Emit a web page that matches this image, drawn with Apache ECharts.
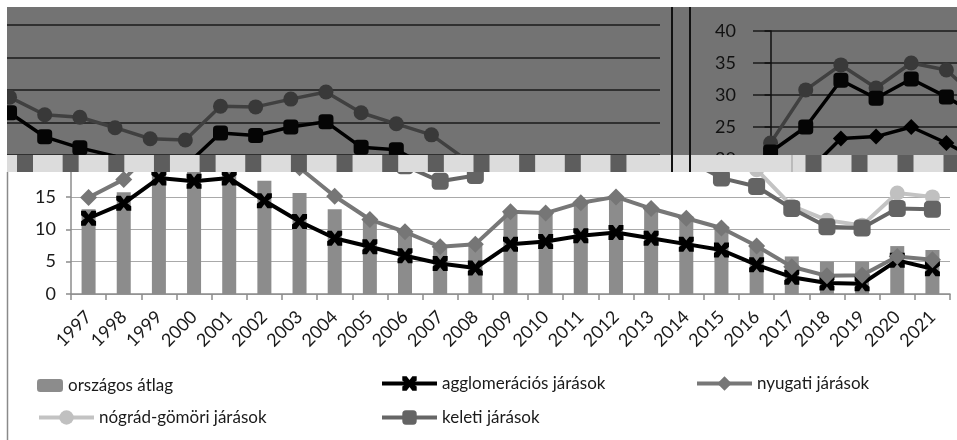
<!DOCTYPE html>
<html><head><meta charset="utf-8">
<script src="https://cdn.jsdelivr.net/npm/echarts@6/dist/echarts.min.js"></script>
<style>html,body{margin:0;padding:0;background:#fff}#c{width:957px;height:440px}</style>
</head><body><div id="c"></div>
<script>
const years = ['1997','1998','1999','2000','2001','2002','2003','2004','2005','2006','2007','2008','2009','2010','2011','2012','2013','2014','2015','2016','2017','2018','2019','2020','2021'];
const orszagosAtlag = [13.1,15.7,19.9,19.5,19.9,17.5,15.6,13.1,11.5,9.5,7.0,7.5,12.8,12.4,14.3,15.0,13.4,12.0,10.5,7.6,5.8,5.0,5.0,7.4,6.8];
const agglomeracios = [11.7,14.0,17.9,17.4,17.9,14.4,11.2,8.6,7.3,5.9,4.7,4.0,7.7,8.1,9.0,9.5,8.6,7.7,6.8,4.5,2.6,1.7,1.6,5.2,3.9];
const nyugati = [14.9,17.7,23.2,23.5,25.0,22.5,19.5,15.1,11.5,9.6,7.3,7.7,12.7,12.5,14.1,15.0,13.2,11.7,10.2,7.4,4.2,2.8,2.9,5.8,5.3];
const nogradGomori = [22.5,30.8,34.7,31.1,35.0,33.9,28.9,26.2,25.8,24.2,22.5,22.3,27.5,27.4,28.6,29.7,26.5,24.8,23.1,19.2,13.6,11.4,10.6,15.6,15.0];
const keleti = [21.1,25.0,32.3,29.5,32.5,29.7,26.5,22.8,21.1,19.8,17.4,18.3,23.4,23.0,24.3,25.1,21.2,20.8,17.9,16.6,13.2,10.4,10.2,13.2,13.1];
const names = ['országos átlag','agglomerációs járások','nyugati járások','nógrád-gömöri járások','keleti járások'];

const FONT = 'Lato';
const XMARK = 'path://M0,0L3,0L5,2.6L7,0L10,0L10,3L7.4,5L10,7L10,10L7,10L5,7.4L3,10L0,10L0,7L2.6,5L0,3Z';
const CAT = 879 / years.length; // px per category in the main plot

const chart = echarts.init(document.getElementById('c'), null, {renderer:'canvas'});

const pairs = arr => arr.map((v,i)=>[i,v]);

function overlaySeries(idx, tag){
  const common = {type:'line', xAxisIndex:idx, yAxisIndex:idx, zlevel:1, clip:true, showSymbol:true, showAllSymbol:true};
  return [
    Object.assign({name:'ov-ny-'+tag, data:pairs(nyugati), z:3,
     symbol:'diamond', symbolSize:16, lineStyle:{color:'#000',width:3.5}, itemStyle:{color:'#000'}}, common),
    Object.assign({name:'ov-ng-'+tag, data:pairs(nogradGomori), z:4,
     symbol:'circle', symbolSize:15, lineStyle:{color:'#404040',width:3.5}, itemStyle:{color:'#393939'}}, common),
    Object.assign({name:'ov-ke-'+tag, data:pairs(keleti), z:5,
     symbol:'roundRect', symbolSize:15, lineStyle:{color:'#000',width:3.5}, itemStyle:{color:'#050505'}}, common)
  ];
}

const graphics = [
  {type:'rect', shape:{x:7,y:7,width:950,height:148}, style:{fill:'#737373'}, zlevel:1, z:0},
  {type:'rect', shape:{x:0,y:0,width:7,height:172}, style:{fill:'#fff'}, zlevel:1, z:100},
  {type:'rect', shape:{x:0,y:0,width:957,height:7}, style:{fill:'#fff'}, zlevel:1, z:100},
  {type:'rect', shape:{x:7,y:155,width:950,height:17}, style:{fill:'#dcdcdc'}, zlevel:1, z:100},
  {type:'line', shape:{x1:672,y1:7,x2:672,y2:172}, style:{stroke:'#111',lineWidth:2}, zlevel:1, z:101},
  {type:'line', shape:{x1:690,y1:7,x2:690,y2:172}, style:{stroke:'#111',lineWidth:2}, zlevel:1, z:101},
  {type:'line', shape:{x1:792,y1:155,x2:792,y2:172}, style:{stroke:'#999',lineWidth:1}, zlevel:1, z:101},
  {type:'line', shape:{x1:7.5,y1:172,x2:7.5,y2:440}, style:{stroke:'#8a8a8a',lineWidth:1.5}, zlevel:0, z:10}
];
for (let k=0;k<14;k++){
  graphics.push({type:'rect', shape:{x:17+45.65*k,y:155,width:16,height:17}, style:{fill:'#5d5d5d'}, zlevel:1, z:101});
}
for (let k=0;k<4;k++){
  graphics.push({type:'rect', shape:{x:805.5+46*k,y:155,width:16,height:17}, style:{fill:'#5d5d5d'}, zlevel:1, z:101});
}

const legendBase = {orient:'horizontal', itemGap:0, textStyle:{fontFamily:FONT,fontSize:17,color:'#1a1a1a'}, selectedMode:false};
const lineLegend = {itemWidth:55, itemHeight:18, lineStyle:{width:4}};

// overlay panels: shifted copies of the plot (left copy starts at plot x=-219, right copy at x=753)
const leftMin = (7 + 219) / CAT - 0.5, leftMax = (660 + 219) / CAT - 0.5;
const rightMin = -0.5, rightMax = -0.5 + 204 / CAT;

chart.setOption({
  animation:false,
  backgroundColor:'#fff',
  textStyle:{fontFamily:FONT},
  grid:[
    {left:71, top:35, width:879, height:259},
    {left:7, top:25, width:653, height:130},
    {left:753, top:31, width:204, height:128}
  ],
  xAxis:[
    {type:'category', gridIndex:0, data:years, boundaryGap:true,
     axisLine:{lineStyle:{color:'#8c8c8c',width:1.5}},
     axisTick:{show:true, length:6, lineStyle:{color:'#8c8c8c',width:1.5}},
     axisLabel:{interval:0, rotate:45, fontSize:18, color:'#1a1a1a', margin:20, fontFamily:FONT}},
    {type:'value', gridIndex:1, min:leftMin, max:leftMax, show:false},
    {type:'value', gridIndex:2, min:rightMin, max:rightMax, show:false}
  ],
  yAxis:[
    {type:'value', gridIndex:0, min:0, max:40, interval:5,
     axisLine:{show:true, lineStyle:{color:'#8c8c8c',width:1.5}},
     axisTick:{show:true, length:5, lineStyle:{color:'#8c8c8c',width:1.5}},
     splitLine:{lineStyle:{color:'#a9a9a9',width:1.2}},
     axisLabel:{fontSize:18, color:'#1a1a1a', margin:15, fontFamily:FONT}},
    {type:'value', gridIndex:1, min:20, max:40, interval:5, zlevel:1, z:1,
     axisLine:{show:false}, axisTick:{show:false}, axisLabel:{show:false},
     splitLine:{lineStyle:{color:'#1a1a1a',width:1.5}}},
    {type:'value', gridIndex:2, min:20, max:40, interval:5, zlevel:1, z:1,
     axisLine:{show:true, lineStyle:{color:'#111',width:1.5}},
     axisTick:{show:true, length:6, lineStyle:{color:'#111',width:1.5}},
     splitLine:{lineStyle:{color:'#1a1a1a',width:1.5}},
     axisLabel:{fontSize:18, color:'#111', margin:17, fontFamily:FONT}}
  ],
  legend:[
    Object.assign({}, legendBase, {data:[names[0]], left:32, top:372, itemWidth:26, itemHeight:13}),
    Object.assign({}, legendBase, lineLegend, {data:[names[1]], left:375, top:370}),
    Object.assign({}, legendBase, lineLegend, {data:[names[2]], left:690, top:370}),
    Object.assign({}, legendBase, lineLegend, {data:[names[3]], left:32, top:404}),
    Object.assign({}, legendBase, lineLegend, {data:[names[4]], left:375, top:404})
  ],
  graphic:{elements:graphics},
  series:[
    {name:names[0], type:'bar', xAxisIndex:0, yAxisIndex:0, data:orszagosAtlag, barWidth:14, itemStyle:{color:'#8c8c8c'}},
    {name:names[1], type:'line', xAxisIndex:0, yAxisIndex:0, data:agglomeracios, symbol:XMARK, symbolSize:15,
     lineStyle:{color:'#000',width:4}, itemStyle:{color:'#000'}},
    {name:names[2], type:'line', xAxisIndex:0, yAxisIndex:0, data:nyugati, symbol:'diamond', symbolSize:17,
     lineStyle:{color:'#777',width:4}, itemStyle:{color:'#767676'}},
    {name:names[3], type:'line', xAxisIndex:0, yAxisIndex:0, data:nogradGomori, symbol:'circle', symbolSize:15,
     lineStyle:{color:'#c3c3c3',width:4}, itemStyle:{color:'#c0c0c0'}},
    {name:names[4], type:'line', xAxisIndex:0, yAxisIndex:0, data:keleti, symbol:'roundRect', symbolSize:17,
     lineStyle:{color:'#666',width:4}, itemStyle:{color:'#646464'}}
  ].concat(overlaySeries(1,'L'), overlaySeries(2,'R'))
});
</script></body></html>
